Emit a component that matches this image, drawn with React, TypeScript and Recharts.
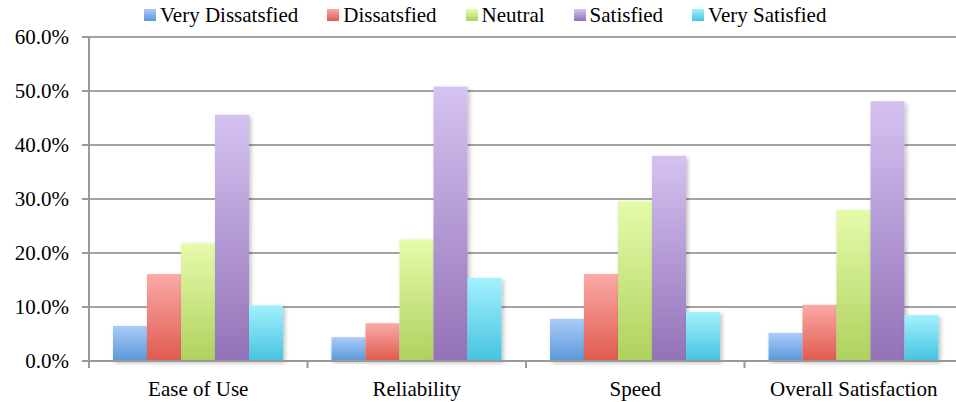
import { BarChart, Bar, XAxis, YAxis, CartesianGrid } from 'recharts';

const categories = ['Ease of Use', 'Reliability', 'Speed', 'Overall Satisfaction'];
const seriesNames = ['Very Dissatsfied', 'Dissatsfied', 'Neutral', 'Satisfied', 'Very Satisfied'];
const veryDissatisfied = [0.065, 0.044, 0.078, 0.052];
const dissatisfied = [0.161, 0.07, 0.161, 0.104];
const neutral = [0.218, 0.225, 0.296, 0.28];
const satisfied = [0.456, 0.508, 0.38, 0.481];
const verySatisfied = [0.103, 0.154, 0.091, 0.085];
const yTicks = [0, 0.1, 0.2, 0.3, 0.4, 0.5, 0.6];

const seriesValues = [veryDissatisfied, dissatisfied, neutral, satisfied, verySatisfied];
const gradients = [
  ['#abcbfa', '#5a98d9'],
  ['#fbaaa6', '#df5a4f'],
  ['#e6fbab', '#afd15d'],
  ['#d5c2f1', '#9372b7'],
  ['#a2f1fd', '#46c3e0'],
];

const data = categories.map((name, i) => {
  const row: Record<string, string | number> = { name };
  seriesNames.forEach((s, j) => {
    row[s] = seriesValues[j][i];
  });
  return row;
});

const FONT = '"Liberation Serif", "Times New Roman", serif';

const XTick = (props: any) => {
  const { x, y, payload, index, visibleTicksCount } = props;
  const half = payload.offset ?? 0;
  return (
    <g>
      <line x1={x - half} x2={x - half} y1={y - 8} y2={y - 1} stroke="#999" strokeWidth={2} />
      {index === visibleTicksCount - 1 && (
        <line x1={x + half} x2={x + half} y1={y - 8} y2={y - 1} stroke="#999" strokeWidth={2} />
      )}
      <text x={x} y={y + 27} textAnchor="middle" fontSize={21} fontFamily={FONT} fill="#000">
        {payload.value}
      </text>
    </g>
  );
};

const ChartLegend = () => (
  <div
    style={{
      position: 'absolute',
      left: 144,
      top: 3,
      display: 'flex',
      gap: 29,
      fontFamily: FONT,
      fontSize: 21,
      color: '#000',
      lineHeight: '24px',
      whiteSpace: 'nowrap',
    }}
  >
    {seriesNames.map((s, i) => (
      <div key={s} style={{ display: 'flex', alignItems: 'center' }}>
        <span
          style={{
            display: 'inline-block',
            width: 12,
            height: 12,
            marginRight: 4,
            background: `linear-gradient(${gradients[i][0]}, ${gradients[i][1]})`,
          }}
        />
        {s}
      </div>
    ))}
  </div>
);

export default function App() {
  return (
    <div style={{ position: 'absolute', left: 0, top: 0, width: 956, height: 402, overflow: 'hidden', background: '#fff' }}>
      <BarChart
        width={963}
        height={402}
        data={data}
        margin={{ top: 37, right: 0, left: 0, bottom: 0 }}
        barCategoryGap={24}
        barGap={0}
      >
        <defs>
          {gradients.map((g, i) => (
            <linearGradient key={i} id={`g${i}`} x1="0" y1="0" x2="0" y2="1">
              <stop offset="0%" stopColor={g[0]} />
              <stop offset="100%" stopColor={g[1]} />
            </linearGradient>
          ))}
          <filter id="sh" x="-20%" y="-5%" width="150%" height="115%">
            <feDropShadow dx="2" dy="2" stdDeviation="2" floodColor="#000" floodOpacity="0.25" />
          </filter>
        </defs>
        <CartesianGrid vertical={false} stroke="#a3a3a3" strokeWidth={2} />
        <XAxis
          dataKey="name"
          height={41}
          axisLine={{ stroke: '#999', strokeWidth: 2 }}
          tickLine={false}
          tick={<XTick />}
          interval={0}
        />
        <YAxis
          width={89}
          domain={[0, 0.6]}
          ticks={yTicks}
          tickFormatter={(v: number) => `${(v * 100).toFixed(1)}%`}
          axisLine={{ stroke: '#999', strokeWidth: 2 }}
          tickLine={{ stroke: '#999', strokeWidth: 2 }}
          tickSize={7}
          tickMargin={13}
          tick={{ fontSize: 21, fontFamily: FONT, fill: '#000' }}
        />
        {seriesNames.map((s, i) => (
          <Bar
            key={s}
            dataKey={s}
            isAnimationActive={false}
            fill={`url(#g${i})`}
            shape={(p: any) => (
              <rect x={p.x} y={p.y} width={p.width} height={p.height} fill={`url(#g${i})`} filter="url(#sh)" />
            )}
          />
        ))}
      </BarChart>
      <ChartLegend />
    </div>
  );
}
